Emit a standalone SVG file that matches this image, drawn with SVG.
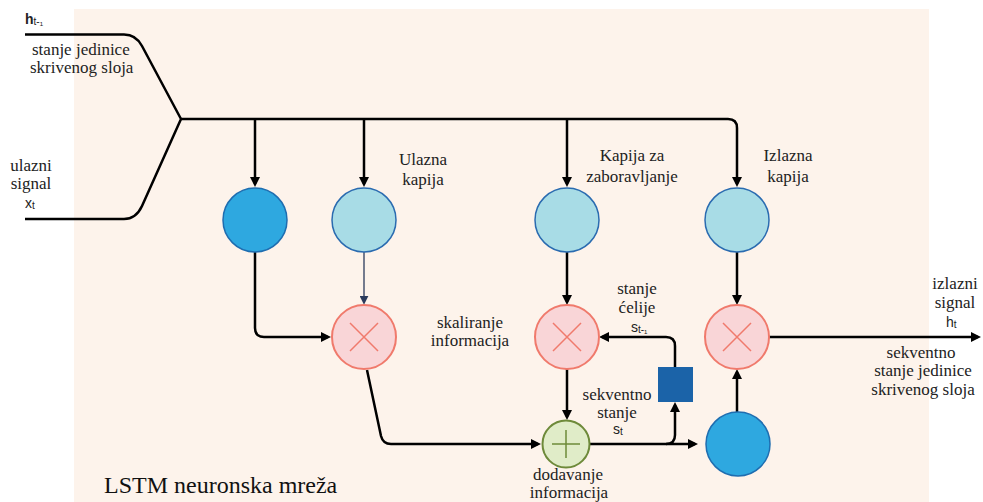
<svg xmlns="http://www.w3.org/2000/svg" width="983" height="502" viewBox="0 0 983 502">
<defs>
<marker id="arr" viewBox="0 0 10 10" refX="7" refY="5" markerWidth="10" markerHeight="10" markerUnits="userSpaceOnUse" orient="auto">
<path d="M0,0 L10,5 L0,10 z" fill="#000"/>
</marker>
<marker id="arrs" viewBox="0 0 10 10" refX="7" refY="5" markerWidth="9" markerHeight="9" markerUnits="userSpaceOnUse" orient="auto">
<path d="M0,0 L10,5 L0,10 z" fill="#2B3A5C"/>
</marker>
<style>
.ln{fill:none;stroke:#000;stroke-width:2.5;stroke-linejoin:round}
.thin{fill:none;stroke:#2B3A5C;stroke-width:1.3}
.dark{fill:#2EA8E0;stroke:#1E6DB0;stroke-width:1.5}
.light{fill:#A8DCE6;stroke:#2A6BB0;stroke-width:1.5}
.mul{fill:#F9D5D7;stroke:#F07A6C;stroke-width:2}
.mulx{stroke:#F07A6C;stroke-width:1.5}
.add{fill:#E0ECC8;stroke:#6E8A3A;stroke-width:2}
.addx{stroke:#6E8A3A;stroke-width:1.5}
.t{font-family:"Liberation Serif","Times New Roman",serif;font-size:17px;fill:#222}
.c{text-anchor:middle}
.s{font-family:"Liberation Sans",Arial,sans-serif;font-size:14px;fill:#222}
.sub{font-size:10px}
.title{font-family:"Liberation Serif","Times New Roman",serif;font-size:24px;fill:#111}
</style>
</defs>
<rect x="74" y="9" width="855" height="493" fill="#FDF3EB"/>

<g id="connectors">
<path class="ln" d="M25,34.5 H124 Q136,34.5 142,46 L181,119 L142,206 Q136,219 124,219 H25"/>
<path class="ln" d="M181,119 H728 Q737,119 737,128 V184" marker-end="url(#arr)"/>
<path class="ln" d="M255,119 V184" marker-end="url(#arr)"/>
<path class="ln" d="M364,119 V184" marker-end="url(#arr)"/>
<path class="ln" d="M567,119 V184" marker-end="url(#arr)"/>
<path class="ln" d="M255,252 V328 Q255,337 264,337 H328" marker-end="url(#arr)"/>
<path class="thin" d="M364,252 V302" marker-end="url(#arrs)"/>
<path class="ln" d="M367,370 L381,436 Q383,444 391,444 H538" marker-end="url(#arr)"/>
<path class="ln" d="M590,444 H695" marker-end="url(#arr)"/>
<path class="ln" d="M666,444 Q675,444 675,435 V405" marker-end="url(#arr)"/>
<path class="ln" d="M675,367 V346 Q675,337 666,337 H602" marker-end="url(#arr)"/>
<path class="ln" d="M567,369 V417" marker-end="url(#arr)"/>
<path class="ln" d="M567,252 V302" marker-end="url(#arr)"/>
<path class="ln" d="M737,252 V302" marker-end="url(#arr)"/>
<path class="ln" d="M737,412 V372" marker-end="url(#arr)"/>
<path class="ln" d="M769,337 H978" marker-end="url(#arr)"/>
</g>

<g id="node-tanh-in"><circle class="dark" cx="255" cy="220" r="32"/></g>
<g id="node-input-gate"><circle class="light" cx="364" cy="220" r="32"/></g>
<g id="node-forget-gate"><circle class="light" cx="567" cy="220" r="32"/></g>
<g id="node-output-gate"><circle class="light" cx="737" cy="220" r="32"/></g>

<g id="node-mul-input"><circle class="mul" cx="364" cy="337" r="32"/><path class="mulx" d="M350,323 L378,351 M378,323 L350,351"/></g>
<g id="node-mul-forget"><circle class="mul" cx="567" cy="337" r="32"/><path class="mulx" d="M553,323 L581,351 M581,323 L553,351"/></g>
<g id="node-mul-output"><circle class="mul" cx="737" cy="337" r="32"/><path class="mulx" d="M723,323 L751,351 M751,323 L723,351"/></g>

<g id="node-add"><circle class="add" cx="566" cy="444" r="23.5"/><path class="addx" d="M552,444 H580 M566,430 V458"/></g>
<g id="node-delay"><rect x="658" y="367" width="35" height="35" fill="#1B63A8"/></g>
<g id="node-tanh-out"><circle class="dark" cx="738" cy="444" r="32"/></g>

<g id="labels">
<text class="s" x="25" y="24" font-weight="bold">h<tspan class="sub" font-weight="normal" dy="1">t-₁</tspan></text>
<text class="t" x="32" y="55">stanje jedinice</text>
<text class="t" x="30" y="73">skrivenog sloja</text>
<text class="t c" x="31" y="171">ulazni</text>
<text class="t c" x="31" y="189">signal</text>
<text class="s" x="25" y="208">x<tspan class="sub" dy="1">t</tspan></text>

<text class="t c" x="423" y="165">Ulazna</text>
<text class="t c" x="423" y="185">kapija</text>
<text class="t c" x="632" y="161">Kapija za</text>
<text class="t c" x="632" y="182">zaboravljanje</text>
<text class="t c" x="788" y="161">Izlazna</text>
<text class="t c" x="788" y="182">kapija</text>

<text class="t c" x="470" y="328">skaliranje</text>
<text class="t c" x="470" y="346">informacija</text>

<text class="t c" x="637" y="294">stanje</text>
<text class="t c" x="637" y="313">ćelije</text>
<text class="s" x="631" y="332" font-size="12">s<tspan class="sub" dy="1">t-₁</tspan></text>

<text class="t c" x="617" y="400">sekventno</text>
<text class="t c" x="617" y="418">stanje</text>
<text class="s" x="613" y="434" font-size="12">s<tspan class="sub" dy="1">t</tspan></text>

<text class="t c" x="568" y="480">dodavanje</text>
<text class="t c" x="569" y="498">informacija</text>

<text class="t c" x="955" y="289">izlazni</text>
<text class="t c" x="955" y="308">signal</text>
<text class="s" x="946" y="327">h<tspan class="sub" dy="1">t</tspan></text>

<text class="t c" x="921" y="358">sekventno</text>
<text class="t c" x="923" y="376">stanje jedinice</text>
<text class="t c" x="923" y="395">skrivenog sloja</text>

<text class="title" x="104" y="493">LSTM neuronska mreža</text>
</g>
</svg>
